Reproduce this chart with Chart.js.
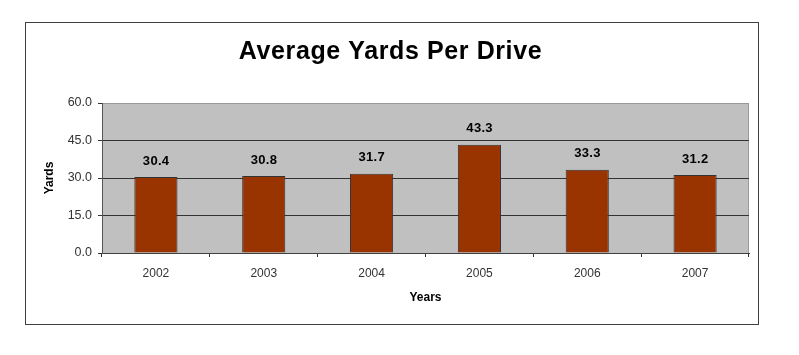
<!DOCTYPE html>
<html>
<head>
<meta charset="utf-8">
<script src="https://cdn.jsdelivr.net/npm/chart.js@4"></script>
<style>
html,body{margin:0;padding:0;background:#fff;}
#wrap{position:relative;width:799px;height:355px;}
</style>
</head>
<body>
<div id="wrap"><canvas id="c" width="799" height="355"></canvas></div>
<script>
const categories = ['2002', '2003', '2004', '2005', '2006', '2007'];
const yardsPerDrive = [30.4, 30.8, 31.7, 43.3, 33.3, 31.2];
const yTickValues = [0, 15, 30, 45, 60];
const chartTitle = 'Average Yards Per Drive';
const xTitle = 'Years';
const yTitle = 'Yards';

const FONT = '"Liberation Sans", Arial, sans-serif';

const frame = {
  id: 'frame',
  beforeDraw(chart) {
    const ctx = chart.ctx, a = chart.chartArea;
    ctx.save();
    ctx.fillStyle = '#fff';
    ctx.fillRect(0, 0, chart.width, chart.height);
    ctx.strokeStyle = '#404040';
    ctx.lineWidth = 1;
    ctx.strokeRect(25.5, 22.5, 733, 302);
    ctx.fillStyle = '#C0C0C0';
    ctx.fillRect(a.left, a.top, a.right - a.left, a.bottom - a.top);
    ctx.strokeStyle = '#999';
    ctx.beginPath();
    ctx.moveTo(a.left, a.top + 0.5);
    ctx.lineTo(a.right - 0.5, a.top + 0.5);
    ctx.lineTo(a.right - 0.5, a.bottom);
    ctx.stroke();
    ctx.restore();
  },
  afterDraw(chart) {
    const ctx = chart.ctx;
    ctx.save();
    ctx.font = 'bold 25px ' + FONT;
    ctx.fillStyle = '#000';
    ctx.textAlign = 'center';
    ctx.textBaseline = 'alphabetic';
    try { ctx.letterSpacing = '0.6px'; } catch (e) {}
    ctx.fillText(chartTitle, 390.5, 59);
    ctx.restore();
  }
};

const valueLabels = {
  id: 'valueLabels',
  afterDatasetsDraw(chart) {
    const ctx = chart.ctx;
    const meta = chart.getDatasetMeta(0);
    ctx.save();
    ctx.font = 'bold 13px ' + FONT;
    ctx.fillStyle = '#000';
    ctx.textAlign = 'center';
    ctx.textBaseline = 'middle';
    try { ctx.letterSpacing = '0.3px'; } catch (e) {}
    meta.data.forEach((bar, i) => {
      ctx.fillText(yardsPerDrive[i].toFixed(1), bar.x + 0.2, bar.y - 16);
    });
    ctx.restore();
  }
};

new Chart(document.getElementById('c'), {
  type: 'bar',
  data: {
    labels: categories,
    datasets: [{
      data: yardsPerDrive,
      backgroundColor: '#993300',
      borderColor: '#333',
      borderWidth: 1,
      barPercentage: 0.4,
      categoryPercentage: 1
    }]
  },
  options: {
    responsive: false,
    animation: false,
    events: [],
    layout: { padding: { left: 30, right: 50, top: 103, bottom: 42 } },
    plugins: {
      legend: { display: false },
      tooltip: { enabled: false },
      title: { display: false }
    },
    scales: {
      x: {
        offset: true,
        afterFit(s) { s.height = 60; },
        grid: { display: true, drawOnChartArea: false, tickLength: 4, color: '#333', offset: true },
        border: { color: '#404040', width: 1 },
        ticks: { color: '#333', padding: 9, font: { family: FONT, size: 12 } },
        title: {
          display: true, text: xTitle, color: '#000',
          font: { family: FONT, size: 12, weight: 'bold', lineHeight: 1.2 },
          padding: { top: 0, bottom: 7.8 }
        }
      },
      y: {
        min: 0, max: 60,
        afterFit(s) { s.width = 72; },
        afterBuildTicks(s) { s.ticks = yTickValues.map(v => ({ value: v })); },
        grid: {
          color: (c) => c.tick && c.tick.value === 60 ? '#999' : '#333',
          tickColor: '#333',
          tickLength: 4,
          lineWidth: 1
        },
        border: { color: '#555', width: 1 },
        ticks: {
          color: '#333', padding: 6,
          font: { family: FONT, size: 12.5 },
          callback: (v) => Number(v).toFixed(1)
        },
        title: {
          display: true, text: yTitle, color: '#000',
          font: { family: FONT, size: 12, weight: 'bold', lineHeight: 1.2 },
          padding: { top: 12.5, bottom: 0 }
        }
      }
    }
  },
  plugins: [frame, valueLabels]
});
</script>
</body>
</html>
